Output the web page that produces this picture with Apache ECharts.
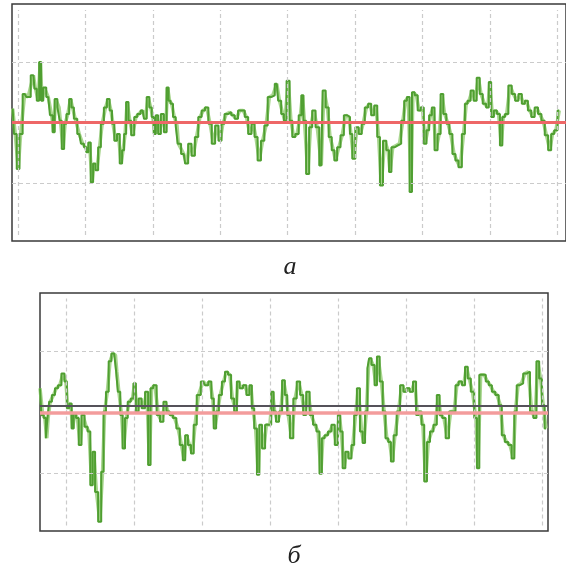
<!DOCTYPE html>
<html>
<head>
<meta charset="utf-8">
<style>
  html, body { margin: 0; padding: 0; background: #fff; }
  #chart { width: 566px; height: 570px; }
</style>
<script src="https://cdn.jsdelivr.net/npm/echarts@6/dist/echarts.min.js"></script>
</head>
<body>
<div id="chart"></div>
<script>
// panel а: time in grid divisions, level in grid divisions
const topTime = [-0.078, -0.04, 0.005, 0.04, 0.10, 0.15, 0.23, 0.26, 0.30, 0.33,
  0.36, 0.39, 0.45, 0.50, 0.53, 0.56, 0.61, 0.63, 0.67, 0.70,
  0.74, 0.78, 0.81, 0.85, 0.91, 0.96, 1.00, 1.03, 1.06, 1.10,
  1.13, 1.17, 1.21, 1.25, 1.30, 1.34, 1.38, 1.41, 1.45, 1.49,
  1.53, 1.56, 1.59, 1.62, 1.66, 1.70, 1.75, 1.79, 1.85, 1.89,
  1.93, 1.97, 2.00, 2.03, 2.06, 2.10, 2.14, 2.19, 2.22, 2.25,
  2.28, 2.32, 2.36, 2.38, 2.46, 2.50, 2.55, 2.60, 2.65, 2.70,
  2.75, 2.80, 2.85, 2.90, 2.95, 3.00, 3.04, 3.09, 3.14, 3.19,
  3.24, 3.29, 3.34, 3.39, 3.44, 3.49, 3.53, 3.58, 3.63, 3.68,
  3.73, 3.78, 3.84, 3.88, 3.93, 3.96, 4.01, 4.05, 4.09, 4.14,
  4.19, 4.22, 4.25, 4.30, 4.34, 4.39, 4.44, 4.50, 4.54, 4.59,
  4.63, 4.68, 4.71, 4.76, 4.81, 4.86, 4.91, 4.94, 4.98, 5.03,
  5.08, 5.12, 5.17, 5.22, 5.26, 5.31, 5.35, 5.39, 5.44, 5.49,
  5.52, 5.56, 5.61, 5.66, 5.71, 5.75, 5.79, 5.83, 5.86, 5.91,
  5.95, 6.00, 6.04, 6.08, 6.12, 6.16, 6.20, 6.25, 6.29, 6.33,
  6.38, 6.42, 6.47, 6.51, 6.56, 6.61, 6.65, 6.69, 6.74, 6.78,
  6.83, 6.87, 6.92, 6.97, 7.00, 7.04, 7.08, 7.13, 7.17, 7.20,
  7.25, 7.30, 7.35, 7.40, 7.45, 7.50, 7.54, 7.59, 7.64, 7.69,
  7.74, 7.79, 7.84, 7.89, 7.93, 7.98, 8.03];
const topLevel = [0.23, -0.19, -0.77, -0.19, 0.47, 0.42, 0.78, 0.56, 0.36, 1.0,
  0.36, 0.58, 0.42, 0.12, -0.16, 0.39, 0.25, 0.03, -0.44, -0.02,
  0.14, 0.39, 0.25, 0.06, -0.19, -0.35, -0.41, -0.49, -0.33, -0.99,
  -0.68, -0.79, -0.41, -0.02, 0.25, 0.39, 0.20, -0.02, -0.30, -0.19,
  -0.68, -0.46, -0.19, 0.34, 0.03, -0.21, 0.09, 0.14, 0.20, 0.06,
  0.42, 0.25, 0.09, -0.19, 0.12, -0.19, 0.14, -0.16, 0.58, 0.36,
  0.31, 0.09, -0.05, -0.35, -0.52, -0.68, -0.35, -0.55, -0.24, 0.09,
  0.20, 0.25, -0.02, -0.35, -0.05, -0.30, -0.02, 0.14, 0.17, 0.12,
  0.06, 0.20, 0.20, 0.09, -0.19, -0.02, -0.24, -0.63, -0.30, -0.05,
  0.42, 0.45, 0.64, 0.36, 0.14, 0.03, 0.69, 0.03, -0.24, -0.19,
  0.12, 0.45, 0.03, -0.85, -0.08, 0.20, -0.08, -0.71, 0.53, 0.25,
  -0.24, -0.46, -0.63, -0.41, -0.21, 0.12, 0.09, -0.19, -0.60, -0.08,
  -0.19, -0.02, 0.25, 0.31, 0.12, 0.28, -0.24, -1.04, -0.30, -0.46,
  -0.82, -0.41, -0.38, -0.35, 0.03, 0.36, 0.42, -1.15, 0.50, 0.45,
  0.20, 0.25, -0.35, -0.13, 0.12, 0.25, -0.46, -0.19, 0.47, 0.14,
  -0.02, -0.19, -0.52, -0.63, -0.74, -0.19, 0.31, 0.36, 0.53, 0.36,
  0.74, 0.47, 0.31, 0.25, 0.67, 0.09, 0.20, 0.14, -0.38, 0.09,
  0.14, 0.61, 0.47, 0.36, 0.47, 0.31, 0.36, 0.20, 0.09, 0.25,
  0.14, 0.03, -0.21, -0.46, -0.19, -0.13, 0.20];

// panel б
const bottomTime = [-0.38, -0.34, -0.31, -0.28, -0.26, -0.23, -0.18, -0.14, -0.09, -0.04,
  0.00, 0.03, 0.07, 0.10, 0.13, 0.17, 0.21, 0.25, 0.30, 0.34,
  0.38, 0.41, 0.45, 0.50, 0.54, 0.57, 0.61, 0.65, 0.69, 0.73,
  0.75, 0.78, 0.82, 0.85, 0.89, 0.93, 0.98, 1.01, 1.05, 1.09,
  1.14, 1.19, 1.23, 1.26, 1.31, 1.36, 1.41, 1.46, 1.50, 1.55,
  1.60, 1.65, 1.70, 1.74, 1.77, 1.82, 1.86, 1.90, 1.95,
  2.02, 2.07, 2.12, 2.16, 2.19, 2.23, 2.27, 2.32, 2.36, 2.41,
  2.45, 2.50, 2.53, 2.58, 2.63, 2.68, 2.72, 2.75, 2.79, 2.83,
  2.86, 2.91, 2.95, 3.00, 3.04, 3.07, 3.11, 3.16, 3.20, 3.24,
  3.27, 3.32, 3.37, 3.42, 3.47, 3.51, 3.56, 3.61, 3.66, 3.71,
  3.75, 3.78, 3.83, 3.88, 3.93, 3.98, 4.02, 4.05, 4.09, 4.13,
  4.18, 4.22, 4.26, 4.30, 4.35, 4.38, 4.42, 4.45,
  4.47, 4.52, 4.56, 4.59, 4.64, 4.68, 4.72, 4.76, 4.80, 4.84,
  4.89, 4.94, 4.99, 5.03, 5.08, 5.13, 5.17, 5.21, 5.25, 5.29,
  5.33, 5.38, 5.43, 5.48, 5.51, 5.56, 5.61, 5.66, 5.71, 5.75,
  5.80, 5.85, 5.89, 5.93, 5.98, 6.03, 6.06, 6.10, 6.15, 6.20,
  6.24, 6.29, 6.34, 6.39, 6.43, 6.48, 6.53, 6.58, 6.61, 6.65,
  6.70, 6.75, 6.80, 6.85, 6.90, 6.94, 6.98, 7.02, 7.06];
const bottomLevel = [0.39, -0.05, -0.10, -0.43, -0.10, 0.17, 0.28, 0.39, 0.44, 0.63,
  0.50, 0.06, 0.14, -0.27, -0.02, -0.10, -0.54, -0.05, -0.24, -0.32,
  -1.20, -0.65, -1.31, -1.80, -0.98, 0.01, 0.33, 0.83, 0.96, 0.93,
  0.66, 0.33, -0.05, -0.60, -0.10, 0.17, 0.22, 0.47, 0.01, 0.22,
  0.06, 0.33, -0.87, 0.39, 0.44, -0.05, -0.16, 0.17, 0.01, -0.05,
  -0.10, -0.27, -0.54, -0.79, -0.38, -0.54, -0.68, -0.21, 0.28,
  0.50, 0.44, 0.50, 0.22, -0.27, 0.01, 0.28, 0.50, 0.66, 0.61,
  0.22, 0.01, 0.50, 0.39, 0.44, 0.28, 0.44, 0.06, -0.27, -1.03,
  -0.21, -0.60, -0.21, -0.21, 0.33, 0.01, -0.16, 0.01, 0.52, 0.28,
  -0.05, -0.43, 0.22, 0.50, 0.28, -0.05, 0.33, -0.05, -0.21, -0.32,
  -1.01, -0.43, -0.38, -0.32, -0.21, -0.54, -0.05, -0.32, -0.92, -0.65,
  -0.76, -0.54, -0.05, 0.39, -0.32, -0.51, 0.01, 0.72,
  0.88, 0.77, 0.44, 0.91, 0.50, 0.01, -0.43, -0.49, -0.81, -0.38,
  0.01, 0.44, 0.33, 0.39, 0.33, 0.50, -0.05, 0.01, -0.21, -1.14,
  -0.49, -0.32, -0.21, 0.28, -0.05, -0.10, -0.43, 0.01, 0.01, 0.44,
  0.50, 0.44, 0.74, 0.55, 0.33, -0.10, -0.92, 0.61, 0.61, 0.50,
  0.44, 0.33, 0.28, 0.11, -0.38, -0.49, -0.54, -0.76, 0.01, 0.44,
  0.47, 0.63, 0.66, 0.01, -0.10, 0.83, 0.55, 0.11, -0.27];

const topTicks = [0, 1, 2, 3, 4, 5, 6, 7, 8];
const bottomTicks = [0, 1, 2, 3, 4, 5, 6, 7];
const levelTicks = [-1, 1];
const topZero = 0;
const bottomZero = -0.02;
const bottomBase = 0.10;
const panelLabels = ['а', 'б'];

const chart = echarts.init(document.getElementById('chart'));

const zip = (ts, vs) => ts.map((t, i) => [t, vs[i]]);

function gridLines(ticks, xMin, xMax) {
    const vert = ticks.map(t => [{ coord: [t, -1.86] }, { coord: [t, 1.86] }]);
    const hor = levelTicks.map(l => [{ coord: [xMin, l] }, { coord: [xMax, l] }]);
    return vert.concat(hor);
}

function panelSeries(idx, data, ticks, xMin, xMax, refLines) {
    const out = [];
    out.push({
        type: 'line', xAxisIndex: idx, yAxisIndex: idx, data: [], z: 1, silent: true,
        markLine: {
            silent: true, symbol: ['none', 'none'], label: { show: false },
            lineStyle: { type: [4, 3], color: '#cbcbcb', width: 1.2 },
            data: gridLines(ticks, xMin, xMax)
        }
    });
    // light trace: straight segments between readings
    out.push({
        type: 'line', xAxisIndex: idx, yAxisIndex: idx, data: data,
        showSymbol: false, z: 2, silent: true,
        lineStyle: { color: '#a9d68f', width: 3.5 }
    });
    // dark trace: held value between readings
    out.push({
        type: 'line', xAxisIndex: idx, yAxisIndex: idx, data: data, step: 'middle',
        showSymbol: false, z: 3, silent: true,
        lineStyle: { color: '#4f9f31', width: 2 }
    });
    refLines.forEach(r => out.push({
        type: 'line', xAxisIndex: idx, yAxisIndex: idx, data: [], z: 4, silent: true,
        markLine: {
            silent: true, symbol: ['none', 'none'], label: { show: false },
            lineStyle: { type: 'solid', color: r.color, width: r.width },
            data: [{ yAxis: r.level }]
        }
    }));
    return out;
}

const frame = { show: true, borderColor: '#3a3a3a', borderWidth: 1.5, backgroundColor: 'transparent' };

const option = {
    backgroundColor: '#fff',
    animation: false,
    grid: [
        Object.assign({ left: 12, top: 4, right: -5, height: 237 }, frame),
        Object.assign({ left: 40, top: 293, width: 508, height: 238 }, frame)
    ],
    xAxis: [
        { type: 'value', gridIndex: 0, min: -0.088, max: 8.13, show: false },
        { type: 'value', gridIndex: 1, min: -0.38, max: 7.09, show: false }
    ],
    yAxis: [
        { type: 'value', gridIndex: 0, min: -1.96, max: 1.96, show: false },
        { type: 'value', gridIndex: 1, min: -1.95, max: 1.95, show: false }
    ],
    series: [].concat(
        panelSeries(0, zip(topTime, topLevel), topTicks, -0.088, 8.13,
            [{ level: topZero, color: '#ee6767', width: 3 }]),
        panelSeries(1, zip(bottomTime, bottomLevel), bottomTicks, -0.38, 7.09,
            [{ level: bottomZero, color: '#f39c9c', width: 3.5 },
             { level: bottomBase, color: '#55525a', width: 2 }])
    ),
    graphic: [
        { type: 'text', x: 290, y: 267, style: { text: panelLabels[0], font: 'italic 26px "Liberation Serif"', fill: '#222', textAlign: 'center', textVerticalAlign: 'middle' } },
        { type: 'text', x: 294, y: 556, style: { text: panelLabels[1], font: 'italic 26px "Liberation Serif"', fill: '#222', textAlign: 'center', textVerticalAlign: 'middle' } }
    ]
};

chart.setOption(option);
</script>
</body>
</html>
